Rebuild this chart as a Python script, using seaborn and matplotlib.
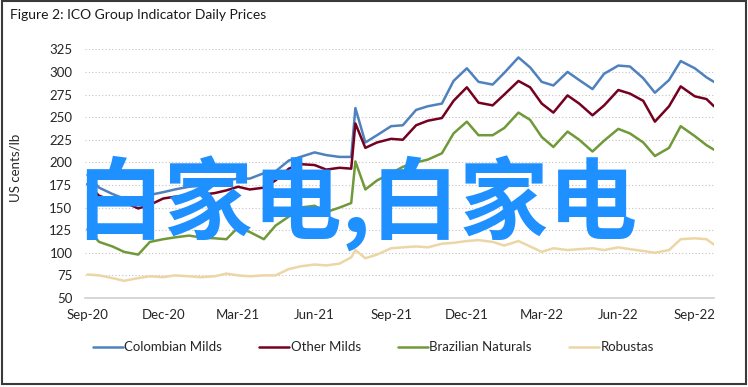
import matplotlib
matplotlib.use("Agg")
import matplotlib.pyplot as plt
import matplotlib.dates as mdates
from matplotlib.patches import Rectangle
import pandas as pd
import seaborn as sns

# semi-monthly readings (plus the July 2021 frost spike)
dates = [
    "2020-09-01", "2020-09-15", "2020-10-01", "2020-10-15", "2020-11-01", "2020-11-15",
    "2020-12-01", "2020-12-15", "2021-01-01", "2021-01-15", "2021-02-01", "2021-02-15",
    "2021-03-01", "2021-03-15", "2021-04-01", "2021-04-15", "2021-05-01", "2021-05-15",
    "2021-06-01", "2021-06-15", "2021-07-01", "2021-07-15", "2021-07-20", "2021-08-01",
    "2021-08-15", "2021-09-01", "2021-09-15", "2021-10-01", "2021-10-15", "2021-11-01",
    "2021-11-15", "2021-12-01", "2021-12-15", "2022-01-01", "2022-01-15", "2022-02-01",
    "2022-02-15", "2022-03-01", "2022-03-15", "2022-04-01", "2022-04-15", "2022-05-01",
    "2022-05-15", "2022-06-01", "2022-06-15", "2022-07-01", "2022-07-15", "2022-08-01",
    "2022-08-15", "2022-09-01", "2022-09-15", "2022-09-24",
]

colombian_milds = [186, 172, 165, 160, 156, 164, 167, 170, 173, 174,
                   177, 180, 182, 182, 188, 190, 202, 206, 211, 208,
                   206, 206, 260, 222, 230, 240, 241, 258, 262, 265,
                   290, 304, 289, 286, 299, 316, 305, 289, 285, 300,
                   291, 281, 298, 307, 306, 293, 277, 291, 312, 304,
                   294, 289]
other_milds = [176, 163, 158, 156, 149, 153, 160, 162, 163, 164,
               166, 169, 173, 170, 172, 180, 193, 198, 197, 192,
               194, 193, 243, 216, 222, 226, 225, 241, 246, 249,
               268, 283, 266, 263, 275, 290, 283, 265, 255, 274,
               265, 252, 263, 280, 276, 268, 245, 262, 284, 273,
               270, 262]
brazilian_naturals = [126, 112, 107, 101, 98, 112, 115, 117, 119, 117,
                      116, 115, 128, 123, 115, 130, 140, 150, 152, 145,
                      150, 155, 201, 170, 180, 188, 195, 200, 203, 210,
                      232, 245, 230, 230, 238, 255, 247, 228, 217, 234,
                      225, 212, 224, 237, 232, 222, 207, 216, 240, 229,
                      219, 214]
robustas = [76, 75, 72, 69, 72, 74, 73, 75, 74, 73,
            74, 77, 75, 74, 75, 75, 82, 85, 87, 86,
            88, 95, 103, 94, 98, 105, 106, 107, 106, 110,
            111, 113, 114, 112, 108, 113, 107, 101, 105, 103,
            104, 105, 103, 106, 104, 102, 100, 103, 115, 116,
            115, 109]

series_names = ["Colombian Milds", "Other Milds", "Brazilian Naturals", "Robustas"]
colors = ["#4f81bd", "#75001f", "#70993a", "#ecd6a6"]
y_ticks = [50, 75, 100, 125, 150, 175, 200, 225, 250, 275, 300, 325]
x_ticks = ["2020-09-01", "2020-12-01", "2021-03-01", "2021-06-01", "2021-09-01",
           "2021-12-01", "2022-03-01", "2022-06-01", "2022-09-01"]

sns.set_style("white")
plt.rcParams["font.family"] = ["Lato", "DejaVu Sans"]

df = pd.DataFrame({
    "date": pd.to_datetime(dates),
    "Colombian Milds": colombian_milds,
    "Other Milds": other_milds,
    "Brazilian Naturals": brazilian_naturals,
    "Robustas": robustas,
})
long = df.melt(id_vars="date", var_name="series", value_name="price")

fig = plt.figure(figsize=(7.48, 3.87), dpi=100)
ax = fig.add_axes([0.1136, 0.230, 0.8409, 0.6426])

sns.lineplot(data=long, x="date", y="price", hue="series", hue_order=series_names,
             palette=colors, linewidth=1.8, ax=ax)

ax.set_ylim(50, 325)
ax.set_xlim(pd.Timestamp("2020-08-29"), pd.Timestamp("2022-09-24"))
ax.set_yticks(y_ticks)
ax.set_xticks(pd.to_datetime(x_ticks))
ax.xaxis.set_major_formatter(mdates.DateFormatter("%b-%y"))
ax.tick_params(axis="both", length=0, labelsize=9.5, colors="#262626")
ax.tick_params(axis="y", pad=9)
ax.tick_params(axis="x", pad=8)
ax.set_xlabel("")
ax.set_ylabel("")
for v in y_ticks[1:]:
    ax.axhline(v, color="#c4c4c4", linewidth=0.8, linestyle=(0, (1, 2)), zorder=0)
for s in ["top", "right", "left"]:
    ax.spines[s].set_visible(False)
ax.spines["bottom"].set_color("#d0d0d0")
ax.spines["bottom"].set_linewidth(1.2)

handles, labels = ax.get_legend_handles_labels()
ax.get_legend().remove()
fig.legend(handles, labels, loc="center", bbox_to_anchor=(0.499, 0.103), ncol=4,
           frameon=False, fontsize=9.5, handlelength=2.3, handletextpad=0.1,
           columnspacing=2.8)

fig.text(0.021, 0.566, "US cents/lb", rotation=90, ha="center", va="center",
         fontsize=9.5, color="#262626")
fig.text(0.013, 0.96, "Figure 2: ICO Group Indicator Daily Prices", ha="left",
         va="center", fontsize=10, color="#1a1a1a")

fig.patches.append(Rectangle((0.003, 0.008), 0.994, 0.989, transform=fig.transFigure,
                             fill=False, edgecolor="#3a3a3a", linewidth=1.5))

fig.text(0.100, 0.474, "白家电,白家电", ha="left", va="center", fontsize=64,
         fontweight="bold", color="#1e90ff",
         family=["Noto Sans CJK SC", "DejaVu Sans"])

fig.savefig("out.png", dpi=100)
